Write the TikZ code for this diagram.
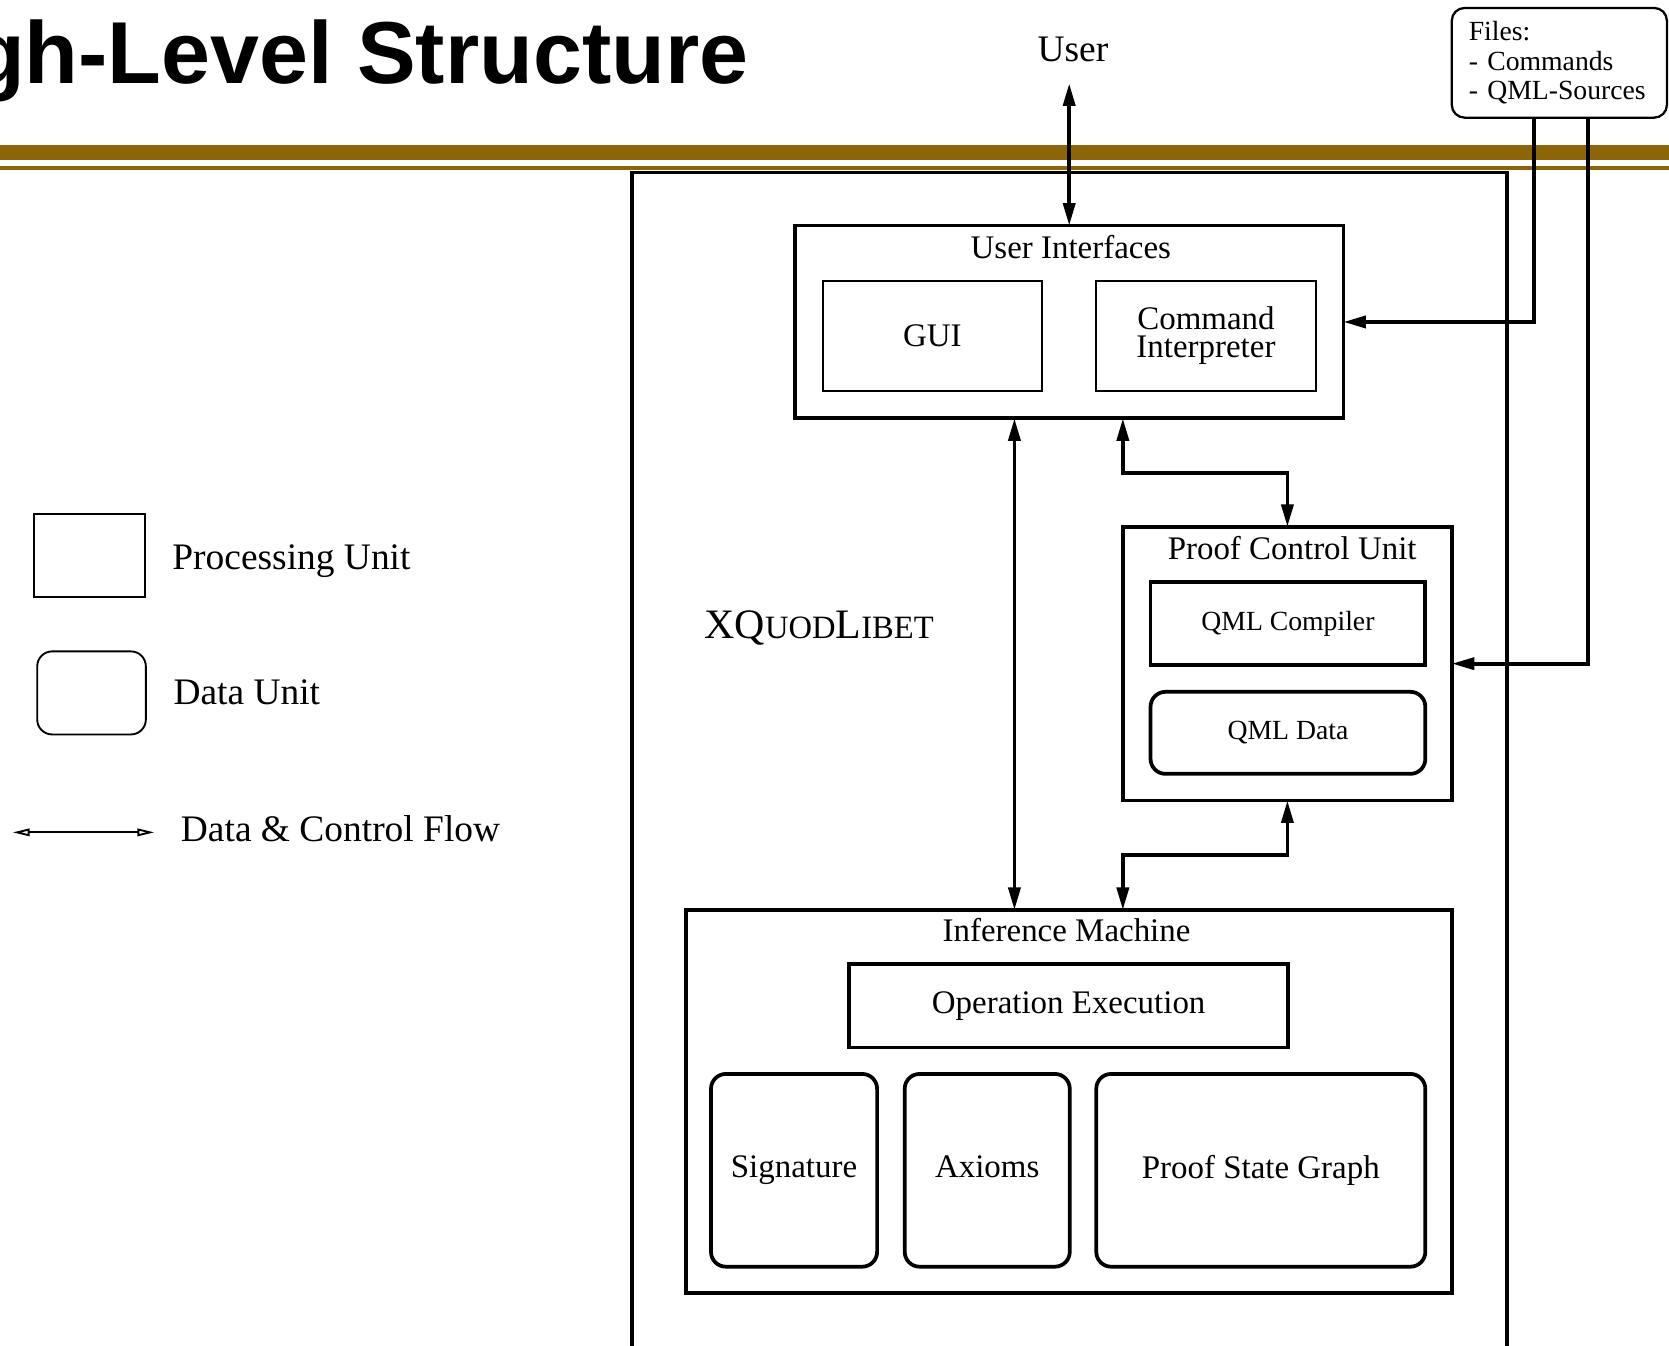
\documentclass[tikz,border=0pt]{standalone}
\usepackage{fontspec}
\setmainfont{Liberation Serif}
\newfontfamily\headfont{Liberation Sans}
\usepackage{tikz}
\definecolor{slidegold}{HTML}{8B6508}
\usetikzlibrary{arrows.meta, positioning, calc}

\begin{document}
\begin{tikzpicture}[
          x = 0.01cm, y = -0.01cm,
          every node/.style = {inner sep=0pt, outer sep=0pt},
          unit/.style = {draw, line width=1pt},
          subunit/.style = {draw, line width=0.5pt},
          dataunit/.style = {draw, line width=1pt, rounded corners=0.14cm},
          unittitle/.style = {anchor=base, font=\fontsize{8.8}{10}\selectfont},
          bigtext/.style = {font=\fontsize{8.8}{7.4}\selectfont, align=center},
          smalltext/.style = {font=\fontsize{7.4}{8.8}\selectfont},
          legtext/.style = {anchor=base west, font=\fontsize{10}{12}\selectfont},
          arr/.style = {-{Triangle[length=6pt, width=3.2pt]}, line width=1pt},
          biarr/.style = {{Triangle[length=6pt, width=3.2pt]}-{Triangle[length=6pt, width=3.2pt]}, line width=1pt},
          legarr/.style = {{Triangle[open, length=4.5pt, width=2pt]}-{Triangle[open, length=4.5pt, width=2pt]}, line width=0.5pt},
        ]
        \clip (0,0) rectangle (1568,1264);

        %% Slide head
        \node[anchor=base east, font=\headfont\bfseries\fontsize{23.5}{28}\selectfont] (title) at (703,78) {gh-Level Structure};
        \fill[slidegold] (0,136) rectangle (1568,150.5);
        \fill[slidegold] (0,155.5) rectangle (1568,159.5);

        %% Legend
        \node[subunit, minimum width=1.04cm, minimum height=0.78cm] (procleg) at (84,522) {};
        \node[legtext] (proclabel) at (162,535) {Processing Unit};
        \node[draw, line width=0.5pt, rounded corners=0.14cm, minimum width=1.02cm, minimum height=0.78cm] (dataleg) at (86,651) {};
        \node[legtext] (datalabel) at (163,662) {Data Unit};
        \coordinate (flowl) at (12,782);
        \coordinate (flowr) at (145,782);
        \draw[legarr] (flowl) -- (flowr);
        \node[legtext] (flowlabel) at (170,791) {Data \& Control Flow};

        %% System frame
        \draw[line width=1pt] (594,1280) -- (594,162) -- (1416,162) -- (1416,1280);
        \node[anchor=base west, font=\fontsize{11.2}{13}\selectfont] (xql) at (662,600)
          {XQ{\fontsize{8.7}{10}\selectfont UOD}L{\fontsize{8.7}{10}\selectfont IBET}};

        %% Outside
        \node[anchor=base, inner ysep=5.7pt, font=\fontsize{10}{12}\selectfont] (user) at (1008,58) {User};
        \node[draw, line width=0.6pt, rounded corners=0.12cm, minimum width=2.02cm, minimum height=1.03cm,
              font=\fontsize{7.4}{7.9}\selectfont, align=left, text width=1.7cm] (files) at (1465,59)
          {Files:\\- Commands\\- QML-Sources};

        %% User interfaces
        \node[unit, minimum width=5.15cm, minimum height=1.81cm] (ui) at (1004.5,302.5) {};
        \node[unittitle] (uititle) at (1006,243) {User Interfaces};
        \node[subunit, bigtext, minimum width=2.06cm, minimum height=1.03cm] (gui) at (876,315.5) {GUI};
        \node[subunit, bigtext, minimum width=2.06cm, minimum height=1.03cm] (cmd) at (1133,315.5) {Command\\Interpreter};

        %% Proof control unit
        \node[unit, minimum width=3.09cm, minimum height=2.57cm] (pcu) at (1209.5,623.5) {};
        \node[unittitle] (pcutitle) at (1214,526) {Proof Control Unit};
        \node[unit, smalltext, minimum width=2.58cm, minimum height=0.78cm] (qmlc) at (1210,586) {QML Compiler};
        \node[dataunit, smalltext, minimum width=2.58cm, minimum height=0.77cm] (qmld) at (1210,688.5) {QML Data};

        %% Inference machine
        \node[unit, minimum width=7.19cm, minimum height=3.6cm] (im) at (1004.5,1035) {};
        \node[unittitle] (imtitle) at (1002,885) {Inference Machine};
        \node[unit, bigtext, minimum width=4.12cm, minimum height=0.78cm] (opex) at (1004,945) {Operation Execution};
        \node[dataunit, bigtext, minimum width=1.56cm, minimum height=1.81cm] (sig) at (746,1099.5) {Signature};
        \node[dataunit, bigtext, text depth=1.9pt, minimum width=1.55cm, minimum height=1.81cm] (ax) at (927.5,1099.5) {Axioms};
        \node[dataunit, bigtext, minimum width=3.09cm, minimum height=1.81cm] (psg) at (1184.5,1099.5) {Proof State Graph};

        %% Flow arrows
        \draw[biarr] (user.south -| ui.north) -- (ui.north);
        \coordinate (guiport) at ([xshift=-0.26cm]gui.south east);
        \draw[biarr] (guiport |- ui.south) -- (guiport |- im.north);
        \draw[biarr] (pcu.north west |- ui.south) -- ++(0,51) -| (pcu.north);
        \draw[biarr] (pcu.south) -- ++(0,51) -| (pcu.north west |- im.north);
        \coordinate (cmdport) at ($(files.south west)+(77,0)$);
        \coordinate (qmlport) at ($(files.south west)+(128,0)$);
        \draw[arr] (cmdport) |- (ui.east);
        \draw[arr] (qmlport) |- (pcu.east);
      \end{tikzpicture}
\end{document}
